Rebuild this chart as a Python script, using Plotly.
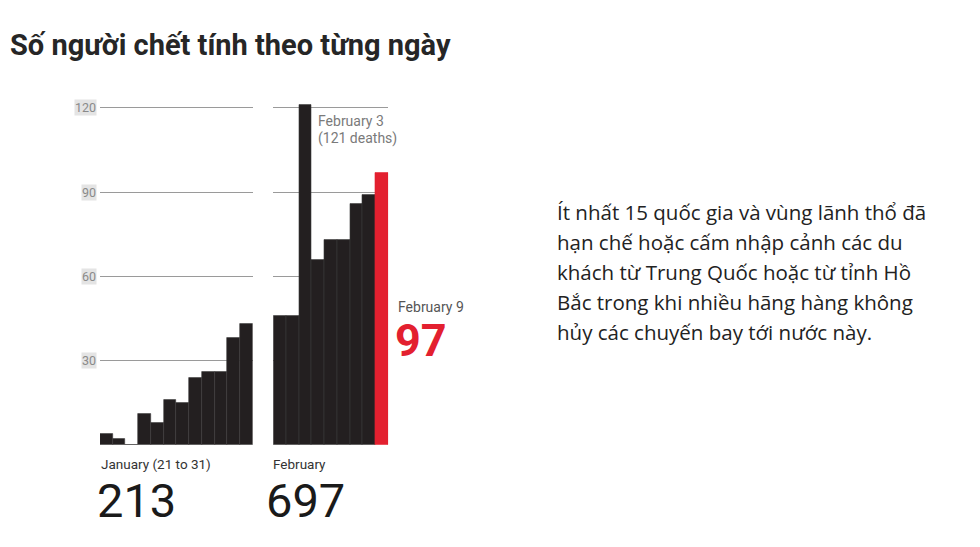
import plotly.graph_objects as go

jan_days = ["Jan 20", "Jan 21", "Jan 22", "Jan 23", "Jan 24", "Jan 25", "Jan 26",
            "Jan 27", "Jan 28", "Jan 29", "Jan 30", "Jan 31"]
jan_deaths = [4, 2, 0, 11, 8, 16, 15, 24, 26, 26, 38, 43]
feb_days = ["Feb 1", "Feb 2", "Feb 3", "Feb 4", "Feb 5", "Feb 6", "Feb 7", "Feb 8", "Feb 9"]
feb_deaths = [46, 46, 121, 66, 73, 73, 86, 89, 97]
y_ticks = [30, 60, 90, 120]
title_text = "Số người chết tính theo từng ngày"
para_lines = ["Ít nhất 15 quốc gia và vùng lãnh thổ đã",
              "hạn chế hoặc cấm nhập cảnh các du",
              "khách từ Trung Quốc hoặc từ tỉnh Hồ",
              "Bắc trong khi nhiều hãng hàng không",
              "hủy các chuyến bay tới nước này."]

# page places the figure 8px from the top-left corner of the window
OFF = 8
W, H = 980 - 2 * OFF, 547 - 2 * OFF
DARK = "#231f20"
RED = "#e3202f"

def px(x):
    return (x - OFF) / W

def py(y):
    return 1 - (y - OFF) / H

fig = go.Figure()
fig.add_trace(go.Bar(x=jan_days, y=jan_deaths, xaxis="x", yaxis="y",
                     marker=dict(color=DARK, line=dict(color="#3c3a3b", width=0.6)),
                     hoverinfo="x+y"))
feb_colors = [DARK] * (len(feb_days) - 1) + [RED]
feb_lines = ["#3c3a3b"] * (len(feb_days) - 1) + [RED]
fig.add_trace(go.Bar(x=feb_days, y=feb_deaths, xaxis="x2", yaxis="y2",
                     marker=dict(color=feb_colors, line=dict(color=feb_lines, width=0.6)),
                     hoverinfo="x+y"))

ydom = [py(444.9), py(444.9 - 125 * 2.808)]
yax = dict(range=[0, 125], domain=ydom, tickvals=y_ticks, showticklabels=False,
           showgrid=True, gridcolor="#9a9a9a", gridwidth=1.3, zeroline=False,
           showline=False, fixedrange=True)
fig.update_layout(
    width=W, height=H,
    margin=dict(l=0, r=0, t=0, b=0),
    paper_bgcolor="white", plot_bgcolor="rgba(0,0,0,0)",
    showlegend=False, bargap=0,
    xaxis=dict(domain=[px(100), px(252.7)], showticklabels=False, showgrid=False,
               zeroline=False, showline=False, type="category"),
    xaxis2=dict(domain=[px(273.3), px(388.3)], showticklabels=False, showgrid=False,
                zeroline=False, showline=False, type="category", anchor="y2"),
    yaxis=yax,
    yaxis2=dict(yax, anchor="x2"),
)

ann = []
for t in y_ticks:
    ann.append(dict(xref="paper", yref="y", x=px(97), y=t, text=str(t), showarrow=False,
                    xanchor="right", yanchor="middle", bgcolor="#e4e4e4", borderpad=0,
                    font=dict(family="Roboto", size=12.5, color="#8a8a8a")))
ann.append(dict(xref="paper", yref="paper", x=0, y=py(45), text="<b>" + title_text + "</b>",
                showarrow=False, xanchor="left", yanchor="middle",
                font=dict(family="Roboto", size=29, color="#262626")))
ann.append(dict(xref="paper", yref="paper", x=px(99), y=py(464), text="January (21 to 31)",
                showarrow=False, xanchor="left", yanchor="middle",
                font=dict(family="Roboto", size=13.5, color="#333333")))
ann.append(dict(xref="paper", yref="paper", x=px(95), y=py(500), text=str(sum(jan_deaths)),
                showarrow=False, xanchor="left", yanchor="middle",
                font=dict(family="Roboto", size=47, color="#1a1a1a")))
ann.append(dict(xref="paper", yref="paper", x=px(271), y=py(464), text="February",
                showarrow=False, xanchor="left", yanchor="middle",
                font=dict(family="Roboto", size=13.5, color="#333333")))
ann.append(dict(xref="paper", yref="paper", x=px(264), y=py(500), text=str(sum(feb_deaths)),
                showarrow=False, xanchor="left", yanchor="middle",
                font=dict(family="Roboto", size=47, color="#1a1a1a")))
peak = max(feb_deaths)
ann.append(dict(xref="paper", yref="paper", x=px(316), y=py(121), text=feb_days[feb_deaths.index(peak)].replace("Feb", "February"),
                showarrow=False, xanchor="left", yanchor="middle",
                font=dict(family="Roboto", size=14, color="#7a7a7a")))
ann.append(dict(xref="paper", yref="paper", x=px(316), y=py(138), text="(%d deaths)" % peak,
                showarrow=False, xanchor="left", yanchor="middle",
                font=dict(family="Roboto", size=14, color="#7a7a7a")))
ann.append(dict(xref="paper", yref="paper", x=px(396), y=py(307), text=feb_days[-1].replace("Feb", "February"),
                showarrow=False, xanchor="left", yanchor="middle",
                font=dict(family="Roboto", size=14, color="#555555")))
ann.append(dict(xref="paper", yref="paper", x=px(393), y=py(340), text="<b>%d</b>" % feb_deaths[-1],
                showarrow=False, xanchor="left", yanchor="middle",
                font=dict(family="Roboto", size=45, color=RED)))
for i, line in enumerate(para_lines):
    ann.append(dict(xref="paper", yref="paper", x=px(555), y=py(212 + 30 * i), text=line,
                    showarrow=False, xanchor="left", yanchor="middle",
                    font=dict(family="Open Sans", size=20.5, color="#222222")))
fig.update_layout(annotations=ann)

fig.write_html("out.html")
